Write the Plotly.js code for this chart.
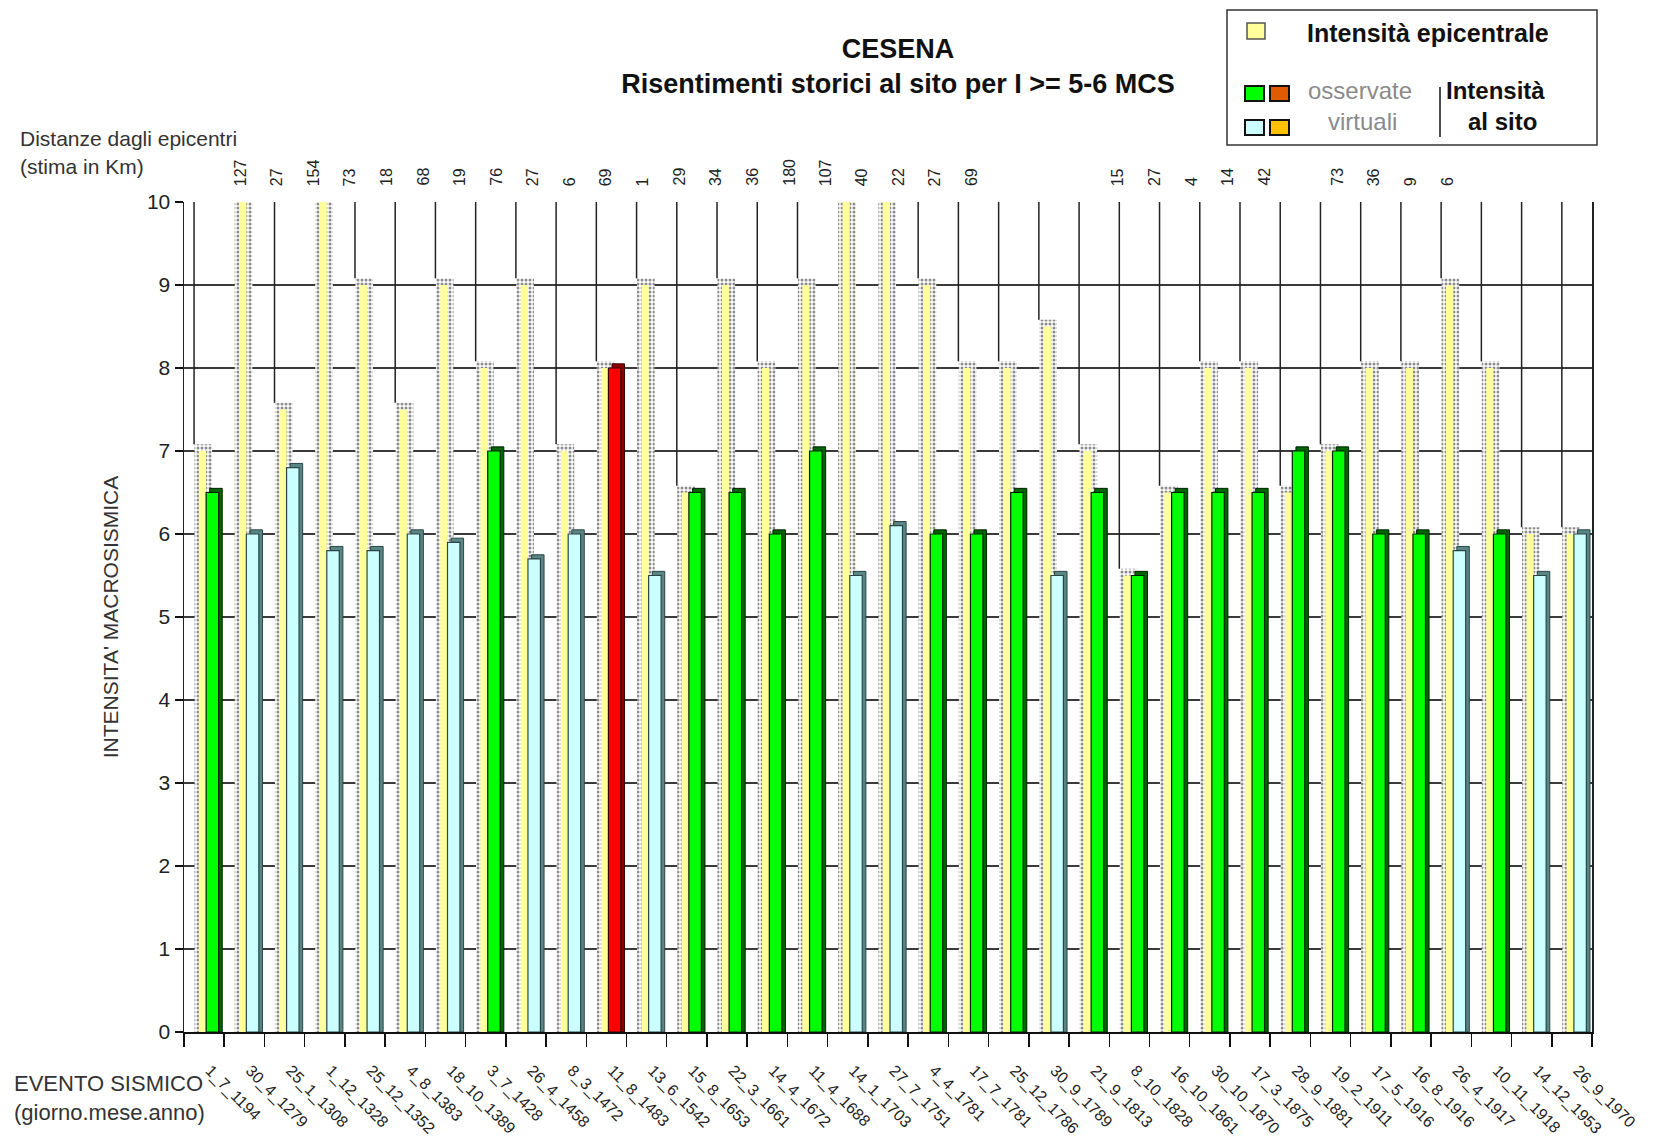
<!DOCTYPE html>
<html>
<head>
<meta charset="utf-8">
<script src="https://cdn.plot.ly/plotly-3.0.1.min.js"></script>
<style>
  html, body { margin: 0; padding: 0; background: #ffffff; }
  #chart { width: 1661px; height: 1143px; }
</style>
</head>
<body>
<div id="chart"></div>
<script>
// ---------------- DATA ----------------
const events = [
  "1_7_1194", "30_4_1279", "25_1_1308", "1_12_1328", "25_12_1352", "4_8_1383", "18_10_1389",
  "3_7_1428", "26_4_1458", "8_3_1472", "11_8_1483", "13_6_1542", "15_8_1653", "22_3_1661",
  "14_4_1672", "11_4_1688", "14_1_1703", "27_7_1751", "4_4_1781", "17_7_1781", "25_12_1786",
  "30_9_1789", "21_9_1813", "8_10_1828", "16_10_1861", "30_10_1870", "17_3_1875", "28_9_1881",
  "19_2_1911", "17_5_1916", "16_8_1916", "26_4_1917", "10_11_1918", "14_12_1953", "26_9_1970"
];
// Intensità epicentrale
const epicentral = [
  7, 10, 7.5, 10, 9, 7.5, 9, 8, 9, 7,
  8, 9, 6.5, 9, 8, 9, 10, 10, 9, 8,
  8, 8.5, 7, 5.5, 6.5, 8, 8, 6.5, 7, 8,
  8, 9, 8, 6, 6
];
// Intensità al sito
const siteIntensity = [
  6.5, 6, 6.8, 5.8, 5.8, 6, 5.9, 7, 5.7, 6,
  8, 5.5, 6.5, 6.5, 6, 7, 5.5, 6.1, 6, 6,
  6.5, 5.5, 6.5, 5.5, 6.5, 6.5, 6.5, 7, 7, 6,
  6, 5.8, 6, 5.5, 6
];
// oss = osservata, vir = virtuale, max = massima osservata
const siteType = [
  "oss", "vir", "vir", "vir", "vir", "vir", "vir", "oss", "vir", "vir",
  "max", "vir", "oss", "oss", "oss", "oss", "vir", "vir", "oss", "oss",
  "oss", "vir", "oss", "oss", "oss", "oss", "oss", "oss", "oss", "oss",
  "oss", "vir", "oss", "vir", "vir"
];
// Distanze dagli epicentri (km)
const distances = [
  null, 127, 27, 154, 73, 18, 68, 19, 76, 27,
  6, 69, 1, 29, 34, 36, 180, 107, 40, 22,
  27, 69, null, null, null, 15, 27, 4, 14, 42,
  null, 73, 36, 9, 6
];
const yTickVals = [0, 1, 2, 3, 4, 5, 6, 7, 8, 9, 10];

// ---------------- STYLE ----------------
const frontColor = { oss: "#00ff00", vir: "#ccffff", max: "#ff0000" };
const sideColor  = { oss: "#006400", vir: "#5a8585", max: "#8b0000" };
const edgeColor  = { oss: "#002000", vir: "#2a4545", max: "#3a0000" };
const depthY = 0.08;      // 3D cap height (axis units)
const labelBand = 0.909;  // spacing of the distance labels relative to categories

const idx = events.map((_, i) => i);
const FONT = "Liberation Sans, Arial, sans-serif";

// plot box in pixels (for legend/notes placement)
const L = 184, R = 1592, T = 202, B = 1032;
const px = fx => (fx - L) / (R - L);
const py = fy => (B - fy) / (B - T);

// back-wall vertical lines (visible above each epicentral bar)
const wallX = [], wallY = [];
idx.forEach(i => {
  if (epicentral[i] < 10) {
    wallX.push(i - 0.25, i - 0.25, null);
    wallY.push(epicentral[i] + depthY, 10, null);
  }
});

const traces = [
  {
    type: "scatter", mode: "lines", x: wallX, y: wallY,
    line: { color: "#222", width: 1.5 }, hoverinfo: "skip", showlegend: false
  },
  {
    type: "bar", x: idx, y: epicentral.map(v => v + depthY),
    offset: -0.24, width: 0.44, cliponaxis: false,
    marker: {
      color: "#ffffff",
      pattern: { shape: ".", fgcolor: "#8c8c8c", bgcolor: "#ffffff", size: 4, solidity: 0.45 },
      line: { width: 0 }
    },
    hoverinfo: "skip", showlegend: false
  },
  {
    type: "bar", x: idx, y: epicentral, name: "Intensità epicentrale",
    offset: -0.13, width: 0.18,
    marker: { color: "#ffff9c", line: { width: 0 } },
    showlegend: false
  },
  {
    type: "bar", x: idx, y: siteIntensity.map(v => v + 0.05),
    offset: 0.14, width: 0.31, cliponaxis: false,
    marker: { color: siteType.map(t => sideColor[t]), line: { color: siteType.map(t => edgeColor[t]), width: 1 } },
    hoverinfo: "skip", showlegend: false
  },
  {
    type: "bar", x: idx, y: siteIntensity, name: "Intensità al sito",
    offset: 0.05, width: 0.31,
    marker: { color: siteType.map(t => frontColor[t]), line: { color: siteType.map(t => edgeColor[t]), width: 1.2 } },
    showlegend: false
  }
];

const annotations = [];
// distance labels
idx.forEach(i => {
  if (distances[i] !== null) {
    annotations.push({
      xref: "x", yref: "paper", x: i * labelBand, y: py(188),
      text: String(distances[i]), textangle: -90, showarrow: false,
      xanchor: "center", yanchor: "bottom",
      font: { family: FONT, size: 16, color: "#222" }
    });
  }
});
// side notes
const note = (text, fx, fy, size, opts) => Object.assign({
  xref: "paper", yref: "paper", x: px(fx), y: py(fy), text: text, showarrow: false,
  xanchor: "left", yanchor: "middle", font: { family: FONT, size: size, color: "#333" }
}, opts || {});
annotations.push(note("Distanze dagli epicentri", 18, 138, 21));
annotations.push(note("(stima in Km)", 18, 166, 21));
annotations.push(note("EVENTO SISMICO", 12, 1083, 22));
annotations.push(note("(giorno.mese.anno)", 12, 1112, 22));
// legend texts
annotations.push(note("<b>Intensità epicentrale</b>", 1305, 33, 25, { font: { family: FONT, size: 25, color: "#111" } }));
annotations.push(note("osservate", 1360, 91, 24, { xanchor: "center", font: { family: FONT, size: 24, color: "#8a8a8a" } }));
annotations.push(note("virtuali", 1362, 122, 24, { xanchor: "center", font: { family: FONT, size: 24, color: "#8a8a8a" } }));
annotations.push(note("<b>Intensità</b>", 1495, 91, 24, { xanchor: "center", font: { family: FONT, size: 24, color: "#111" } }));
annotations.push(note("<b>al sito</b>", 1502, 122, 24, { xanchor: "center", font: { family: FONT, size: 24, color: "#111" } }));

const rect = (x0, y0, x1, y1, fill, line, lw) => ({
  type: "rect", xref: "paper", yref: "paper",
  x0: px(x0), x1: px(x1), y0: py(y0), y1: py(y1),
  fillcolor: fill, line: { color: line, width: lw }
});
const shapes = [
  rect(1227, 10, 1597, 145, "rgba(0,0,0,0)", "#333", 1.5),
  rect(1247, 23, 1265, 39, "#ffff9c", "#555", 1.5),
  rect(1245, 86, 1264, 101, "#00ff00", "#111", 2),
  rect(1270, 86, 1289, 101, "#e05a00", "#111", 2),
  rect(1245, 120, 1264, 135, "#ccffff", "#111", 2),
  rect(1270, 120, 1289, 135, "#ffc000", "#111", 2),
  { type: "line", xref: "paper", yref: "paper", x0: px(1440), x1: px(1440), y0: py(87), y1: py(137),
    line: { color: "#111", width: 1.5 } }
];

const layout = {
  width: 1661, height: 1143,
  paper_bgcolor: "#ffffff", plot_bgcolor: "#ffffff",
  margin: { l: L, r: 1661 - R, t: T, b: 1143 - B, pad: 0 },
  font: { family: FONT, color: "#222" },
  title: {
    text: "<b>CESENA</b><br><b>Risentimenti storici al sito per I >= 5-6 MCS</b>",
    font: { family: FONT, size: 27, color: "#111" },
    xref: "container", yref: "container", x: 898 / 1661, xanchor: "center",
    y: 1 - 58 / 1143, yanchor: "top"
  },
  barmode: "overlay",
  showlegend: false,
  xaxis: {
    range: [-0.5, 34.5], tickmode: "array", tickvals: idx, ticktext: events,
    tickangle: 45, ticks: "outside", ticklen: 13, tickcolor: "rgba(0,0,0,0)",
    ticklabelstandoff: 8, ticklabelshift: 6,
    tickfont: { family: FONT, size: 16, color: "#222" },
    showgrid: false, zeroline: false, showline: true, linecolor: "#111", linewidth: 2,
    minor: {
      tickmode: "array", tickvals: idx.map(i => i - 0.5).concat([events.length - 0.5]),
      ticks: "outside", ticklen: 13, tickcolor: "#111", tickwidth: 1.5, showgrid: false
    }
  },
  yaxis: {
    range: [0, 10], tickmode: "array", tickvals: yTickVals,
    ticks: "outside", ticklen: 8, tickcolor: "#111", tickwidth: 1.5,
    tickfont: { family: FONT, size: 21, color: "#222" },
    showgrid: true, gridcolor: "#3a3a3a", gridwidth: 1.5,
    zeroline: false, showline: true, mirror: true, linecolor: "#222", linewidth: 1.5,
    title: { text: "INTENSITA' MACROSISMICA", font: { family: FONT, size: 21, color: "#333" }, standoff: 22 }
  },
  annotations: annotations,
  shapes: shapes
};

Plotly.newPlot("chart", traces, layout, { displayModeBar: false, staticPlot: true });
</script>
</body>
</html>
